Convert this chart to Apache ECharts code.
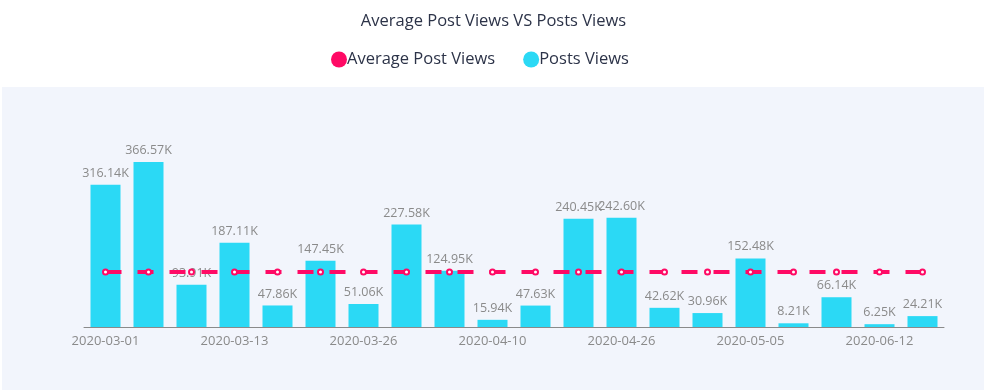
<!DOCTYPE html>
<html>
<head>
<meta charset="utf-8">
<script src="https://cdn.jsdelivr.net/npm/echarts@6/dist/echarts.min.js"></script>
<style>
html,body{margin:0;padding:0;background:#fff;}
#main{width:987px;height:390px;}
</style>
</head>
<body>
<div id="main"></div>
<script>
var categories = ['2020-03-01','2020-03-05','2020-03-09','2020-03-13','2020-03-17','2020-03-21','2020-03-26','2020-03-31','2020-04-05','2020-04-10','2020-04-15','2020-04-20','2020-04-26','2020-04-29','2020-05-02','2020-05-05','2020-05-18','2020-05-30','2020-06-12','2020-06-20'];
var postsViews = [316140,366570,93910,187110,47860,147450,51060,227580,124950,15940,47630,240450,242600,42620,30960,152480,8210,66140,6250,24210];
var averageViews = [122006,122006,122006,122006,122006,122006,122006,122006,122006,122006,122006,122006,122006,122006,122006,122006,122006,122006,122006,122006];

var FONT = 'Open Sans';
var chart = echarts.init(document.getElementById('main'));
chart.setOption({
  animation: false,
  textStyle: {fontFamily: FONT},
  graphic: [{
    type: 'rect', left: 2, top: 87, z: -10,
    shape: {width: 982, height: 310},
    style: {fill: '#f2f5fc'}
  }],
  title: {
    text: 'Average Post Views VS Posts Views',
    left: 'center', top: 8,
    textStyle: {fontFamily: FONT, fontSize: 16.5, fontWeight: 'normal', color: '#2c3348'}
  },
  legend: {
    top: 46, left: 326,
    icon: 'circle', itemWidth: 16, itemHeight: 16, itemGap: 28,
    itemStyle: {borderWidth: 0},
    textStyle: {fontFamily: FONT, fontSize: 16.5, color: '#2c3348', padding: [0,0,0,-5]},
    data: ['Average Post Views', 'Posts Views']
  },
  grid: {left: 84, right: 43, top: 147, bottom: 63},
  xAxis: {
    type: 'category', data: categories,
    axisLine: {lineStyle: {color: '#8a8a8a'}},
    axisTick: {alignWithLabel: true, interval: 2, lineStyle: {color: '#8a8a8a'}},
    axisLabel: {interval: 2, color: '#8a8a8a', fontSize: 13, fontFamily: FONT}
  },
  yAxis: {type: 'value', show: false, min: 0, max: 400000, splitLine: {show: false}},
  series: [{
    name: 'Posts Views', type: 'bar', data: postsViews,
    barWidth: 30,
    itemStyle: {color: '#2bd9f5'},
    label: {show: true, position: 'top', color: '#8a8a8a', fontSize: 12.5, fontFamily: FONT,
      formatter: function(p){ return (p.value/1000).toFixed(2) + 'K'; }}
  }, {
    name: 'Average Post Views', type: 'line', data: averageViews, z: 5,
    symbol: 'emptyCircle', symbolSize: 5,
    itemStyle: {color: '#ff0a65', borderColor: '#ff4d8f', borderWidth: 1.5},
    lineStyle: {color: '#ff0a65', width: 4, type: [16, 16]}
  }],
  color: ['#ff0a65', '#2bd9f5']
});
</script>
</body>
</html>
